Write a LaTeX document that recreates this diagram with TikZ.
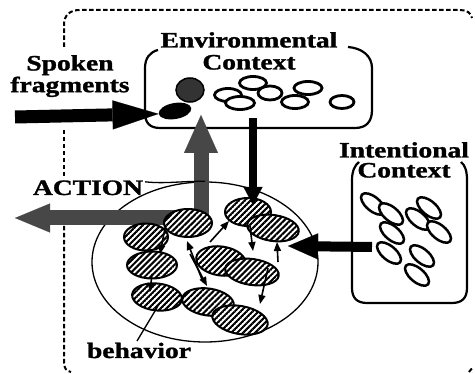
\documentclass[tikz,border=0pt]{standalone}
\usepackage{fontspec}
\setmainfont{Liberation Serif}[BoldFeatures={FakeBold=1.2}]
\usetikzlibrary{shapes.geometric,arrows.meta,patterns.meta}
\tikzdeclarepattern{
  name=myhatch,
  type=uncolored,
  bounding box={(0pt,-1.1pt) and (4.2pt,1.1pt)},
  tile size={(4.2pt,4.2pt)},
  tile transformation={rotate=45},
  code={\draw[line width=2.1pt] (0pt,0pt) -- (4.2pt,0pt);}
}
\newcommand{\widetxt}[1]{\scalebox{1.25}[1]{#1}}
\begin{document}
\begin{tikzpicture}[x=1pt,y=-1pt,
  lbl/.style={font=\fontsize{22}{#1}\selectfont\bfseries, inner sep=0pt, align=center},
  lbl/.default=22,
  frame/.style={line width=2pt, dash pattern=on 4.5pt off 2.5pt},
  ctxbox/.style={line width=2.2pt},
  ring/.style={ellipse, draw, line width=2.8pt, fill=white, inner sep=0pt},
  hatched/.style={ellipse, draw, line width=2pt, inner sep=0pt, preaction={fill=white}, pattern=myhatch},
  bigarrow/.style={line width=13pt, -{Triangle[length=46pt,width=29pt,line width=0.1pt]}},
  grayarrow/.style={draw=black!72, line width=15pt},
  blackarrow/.style={line width=8pt, -{Triangle[length=18pt,width=19pt,line width=0.1pt]}},
  intarrow/.style={line width=10pt, -{Triangle[length=30pt,width=26pt,line width=0.1pt]}},
  smallarrow/.style={line width=1.6pt, -{Triangle[length=9pt,width=7pt]}},
  leader/.style={line width=1.3pt}
]
\useasboundingbox (0,0) rectangle (475,374);

% dashed outer frame (visible parts)
\draw[frame] (64,47) -- (64,25) .. controls (64,15) and (70,10) .. (80,10) -- (460,10) .. controls (467,10) and (471,13) .. (472,18);
\draw[frame] (64,130) -- (64,177);
\draw[frame] (64,226) -- (64,362) .. controls (64,368) and (66,371) .. (71,372);
\draw[frame] (469,372) -- (473,367);

% environmental context box
\draw[ctxbox] (158,50) .. controls (150,52) and (145,58) .. (145,68) -- (145,113)
  .. controls (145,123) and (150,128) .. (160,128) -- (355,128)
  .. controls (366,128) and (372,122) .. (372,110) -- (372,68)
  .. controls (372,56) and (362,48) .. (348,47);
\node[lbl, anchor=north] (envlbl) at (249,32) {\widetxt{Environmental}\\\widetxt{Context}};

% objects in environmental context
\node[ellipse, draw, line width=1.5pt, fill=black!80, minimum width=28pt, minimum height=24pt, inner sep=0pt] (dark) at (190,90) {};
\node[ellipse, fill=black, minimum width=33pt, minimum height=16pt, inner sep=0pt, rotate=10] (spot) at (175,111) {};
\node[ring, minimum width=27pt, minimum height=13pt] (e1) at (228,95) {};
\node[ring, minimum width=27pt, minimum height=13pt] (e2) at (253,83) {};
\node[ring, minimum width=24pt, minimum height=14pt] (e3) at (270,93) {};
\node[ring, minimum width=29pt, minimum height=13pt] (e4) at (240,103) {};
\node[ring, minimum width=28pt, minimum height=13pt] (e5) at (308,88) {};
\node[ring, minimum width=27pt, minimum height=13pt] (e6) at (295,102) {};
\node[ring, minimum width=24pt, minimum height=13pt] (e7) at (342,102) {};

% intentional context box
\draw[ctxbox] (359,162) .. controls (355,165) and (352,171) .. (352,180) -- (352,288)
  .. controls (352,298) and (357,303) .. (367,303) -- (452,303)
  .. controls (462,303) and (467,298) .. (467,288) -- (467,180)
  .. controls (467,171) and (465,165) .. (461,162);
\node[lbl=20, anchor=north] (intlbl) at (404,142) {\widetxt{Intentional}\\\widetxt{Context}};
\foreach \n/\x/\y in {i1/373/204, i2/391/214, i3/392/233, i4/389/253, i5/429/208, i6/418/219, i7/439/232, i8/422/256, i9/417/275}
  \node[ring, line width=2.5pt, minimum width=29pt, minimum height=14pt, rotate=-40] (\n) at (\x,\y) {};

% behaviour cloud
\node[ellipse, draw, line width=1.3pt, minimum width=226pt, minimum height=160pt, inner sep=0pt] (cloud) at (205,262) {};

% spoken fragments
\node[lbl=21.7, anchor=north] (spoken) at (70,55) {\widetxt{Spoken}\\\widetxt{fragments}};
\coordinate (spokenin) at (15,117);
\draw[bigarrow] (spokenin) -- (spot.west);

% action arrows (gray)
\coordinate (junction) at (201,218);
\coordinate (actionout) at (15,218);
\coordinate (upout) at (201,115);
\draw[grayarrow, -{Triangle[length=35pt,width=29pt,line width=0.1pt]}] ([xshift=7.5pt]junction) -- (actionout);
\draw[grayarrow, -{Triangle[length=38pt,width=34pt,line width=0.1pt]}] ([yshift=-7.5pt]junction) -- (upout);

\node[lbl, anchor=base] (action) at (88,195) {\widetxt{ACTION}};
\draw[leader] (action.east) ++(2,-6) .. controls (165,184) and (182,181) .. (cloud.north);

% hatched behaviour ellipses
\node[hatched, minimum width=48pt, minimum height=28pt] (hA) at (188,223) {};
\node[hatched, minimum width=44pt, minimum height=27pt] (hB) at (146,237) {};
\node[hatched, minimum width=50pt, minimum height=27pt] (hC) at (152,265) {};
\node[hatched, minimum width=50pt, minimum height=27pt, rotate=-6] (hD) at (157,297) {};
\node[hatched, minimum width=46pt, minimum height=28pt] (hE) at (248,212) {};
\node[hatched, minimum width=52pt, minimum height=26pt, rotate=-8] (hF) at (273,228) {};
\node[hatched, minimum width=50pt, minimum height=29pt, rotate=-8] (hG) at (221,261) {};
\node[hatched, minimum width=54pt, minimum height=26pt, rotate=-8] (hH) at (252,272) {};
\node[hatched, minimum width=52pt, minimum height=27pt, rotate=-8] (hI) at (208,302) {};
\node[hatched, minimum width=56pt, minimum height=28pt, rotate=-10] (hJ) at (240,320) {};

% small interaction arrows
\coordinate (c1s) at (165,228); \coordinate (c1e) at (160,254);
\coordinate (c2s) at (152,274); \coordinate (c2e) at (150,292);
\coordinate (c3s) at (203,282); \coordinate (c3e) at (187,241);
\coordinate (c4s) at (190,254); \coordinate (c4e) at (207,286);
\coordinate (c5s) at (210,242); \coordinate (c5e) at (229,221);
\coordinate (c6s) at (250,226); \coordinate (c6e) at (253,251);
\coordinate (c7s) at (278,262); \coordinate (c7e) at (277,242);
\coordinate (c8s) at (268,268); \coordinate (c8e) at (260,304);
\foreach \k in {1,...,8} \draw[smallarrow] (c\k s) -- (c\k e);

% context influences
\coordinate (envout) at (253,118);
\coordinate (envin) at (253,205);
\draw[blackarrow] (envout) -- (envin);
\coordinate (intout) at (372,247);
\coordinate (intin) at (288,246);
\draw[intarrow] (intout) -- (intin);

% behavior label
\node[lbl, anchor=base] (behavior) at (139,358) {\widetxt{behavior}};
\coordinate (behpt) at (158,306);
\draw[leader] (137,341) -- (behpt);
\end{tikzpicture}
\end{document}
